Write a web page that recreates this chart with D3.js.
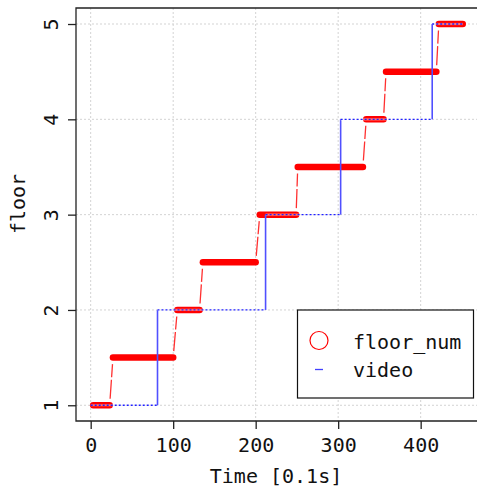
<!DOCTYPE html>
<html>
<head>
<meta charset="utf-8">
<script src="https://cdn.jsdelivr.net/npm/d3@7"></script>
<style>
html,body{margin:0;padding:0;background:#fff;}
svg{display:block;}
text{font-family:"DejaVu Sans Mono",monospace;fill:#111;}
</style>
</head>
<body>
<svg id="chart" width="477" height="488"></svg>
<script>
// floor_num plateaus (time in 0.1 s)
const floorLevels = [1, 1.5, 2, 2.5, 3, 3.5, 4, 4.5, 5];
const floorStart  = [3, 27, 105, 136, 205, 251, 334, 358, 422];
const floorEnd    = [23, 100, 132, 200, 249, 330, 355, 419, 451];
// video step series
const videoTimes  = [0, 81, 212, 303, 414, 451];
const videoFloors = [1, 2, 3, 4, 5];
// ticks
const xTicks = [0, 100, 200, 300, 400];
const yTicks = [1, 2, 3, 4, 5];
const legendLabels = ["floor_num", "video"];

const svg = d3.select("#chart");
const pL = 76, pR = 478, pT = 8, pB = 421;
const x = d3.scaleLinear().domain([-17.8, 469.5]).range([pL, pR]);
const y = d3.scaleLinear().domain([0.835, 5.168]).range([pB, pT]);

// grid
const grid = svg.append("g");
grid.selectAll(".gx").data(xTicks).join("line")
  .attr("x1", d => x(d)).attr("x2", d => x(d)).attr("y1", pT).attr("y2", pB)
  .attr("stroke", "#d3d3d3").attr("stroke-width", 1).attr("stroke-dasharray", "2,2");
grid.selectAll(".gy").data(yTicks).join("line")
  .attr("x1", pL).attr("x2", pR).attr("y1", d => y(d)).attr("y2", d => y(d))
  .attr("stroke", "#d3d3d3").attr("stroke-width", 1).attr("stroke-dasharray", "2,2");

// red connectors between plateaus
const conn = svg.append("g");
for (let i = 0; i < floorLevels.length - 1; i++) {
  const x1 = x(floorEnd[i]), y1 = y(floorLevels[i]);
  const x2 = x(floorStart[i + 1]), y2 = y(floorLevels[i + 1]);
  const dx = x2 - x1, dy = y2 - y1, L = Math.hypot(dx, dy);
  const g = 6.5;
  const ax = x1 + dx * g / L, ay = y1 + dy * g / L;
  const bx = x2 - dx * g / L, by = y2 - dy * g / L;
  const l = L - 2 * g;
  conn.append("line")
    .attr("x1", ax).attr("y1", ay).attr("x2", bx).attr("y2", by)
    .attr("stroke", "#ff3030").attr("stroke-width", 1.3)
    .attr("stroke-dasharray", `${l * 0.55},2.5,${l}`);
}

// red plateaus (dense open circles)
svg.append("g").selectAll("line").data(floorLevels).join("line")
  .attr("x1", (d, i) => x(floorStart[i])).attr("x2", (d, i) => x(floorEnd[i]))
  .attr("y1", d => y(d)).attr("y2", d => y(d))
  .attr("stroke", "#ff0000").attr("stroke-width", 6.5).attr("stroke-linecap", "round");

// video step line
const vid = svg.append("g");
videoFloors.forEach((f, i) => {
  vid.append("line")
    .attr("x1", x(videoTimes[i])).attr("x2", x(videoTimes[i + 1]))
    .attr("y1", y(f)).attr("y2", y(f))
    .attr("stroke", "#ffffff").attr("stroke-opacity", 0.45).attr("stroke-width", 2.2);
  vid.append("line")
    .attr("x1", x(videoTimes[i])).attr("x2", x(videoTimes[i + 1]))
    .attr("y1", y(f)).attr("y2", y(f))
    .attr("stroke", "#2020ff").attr("stroke-width", 1.3).attr("stroke-dasharray", "2,2");
  if (i < videoFloors.length - 1) {
    vid.append("line")
      .attr("x1", x(videoTimes[i + 1])).attr("x2", x(videoTimes[i + 1]))
      .attr("y1", y(f)).attr("y2", y(videoFloors[i + 1]))
      .attr("stroke", "#5050ff").attr("stroke-width", 1.6);
  }
});

// axes / box
const axc = "#222";
svg.append("path")
  .attr("d", `M${pR},${pT}H${pL}V${pB}H${pR}`)
  .attr("fill", "none").attr("stroke", axc).attr("stroke-width", 1.3);

const xAxis = svg.append("g").attr("transform", `translate(0,${pB})`)
  .call(d3.axisBottom(x).tickValues(xTicks).tickSize(8).tickPadding(6).tickFormat(d3.format("d")));
xAxis.select(".domain").remove();
xAxis.selectAll("line").attr("stroke", axc).attr("stroke-width", 1.3);
xAxis.selectAll("text").attr("font-size", 20).attr("font-family", "DejaVu Sans Mono")
  .attr("y", 0).attr("dy", 0).attr("transform", "translate(0,30.5)").attr("fill", "#111");

const yAxis = svg.append("g").attr("transform", `translate(${pL},0)`)
  .call(d3.axisLeft(y).tickValues(yTicks).tickSize(8).tickFormat(d3.format("d")));
yAxis.select(".domain").remove();
yAxis.selectAll("line").attr("stroke", axc).attr("stroke-width", 1.3);
yAxis.selectAll("text").attr("font-size", 20).attr("font-family", "DejaVu Sans Mono")
  .attr("x", 0).attr("dy", 0).attr("text-anchor", "middle")
  .attr("transform", "translate(-18,0) rotate(-90)").attr("fill", "#111");

// axis titles
svg.append("text").attr("x", (pL + pR) / 2 - 1).attr("y", 483)
  .attr("text-anchor", "middle").attr("font-size", 20).text("Time [0.1s]");
svg.append("text").attr("transform", "translate(25,204) rotate(-90)")
  .attr("text-anchor", "middle").attr("font-size", 20).text("floor");

// legend
const lg = svg.append("g");
lg.append("rect").attr("x", 297.5).attr("y", 310).attr("width", 176).attr("height", 88)
  .attr("fill", "#fff").attr("stroke", "#111").attr("stroke-width", 1.2);
lg.append("circle").attr("cx", 319).attr("cy", 340.5).attr("r", 9)
  .attr("fill", "none").attr("stroke", "#ff0000").attr("stroke-width", 1.2);
lg.append("line").attr("x1", 315).attr("x2", 323).attr("y1", 369.5).attr("y2", 369.5)
  .attr("stroke", "#4040ff").attr("stroke-width", 1.3);
lg.selectAll("text").data(legendLabels).join("text")
  .attr("x", 353).attr("y", (d, i) => 348.5 + i * 28.3)
  .attr("font-size", 20).text(d => d);
</script>
</body>
</html>
